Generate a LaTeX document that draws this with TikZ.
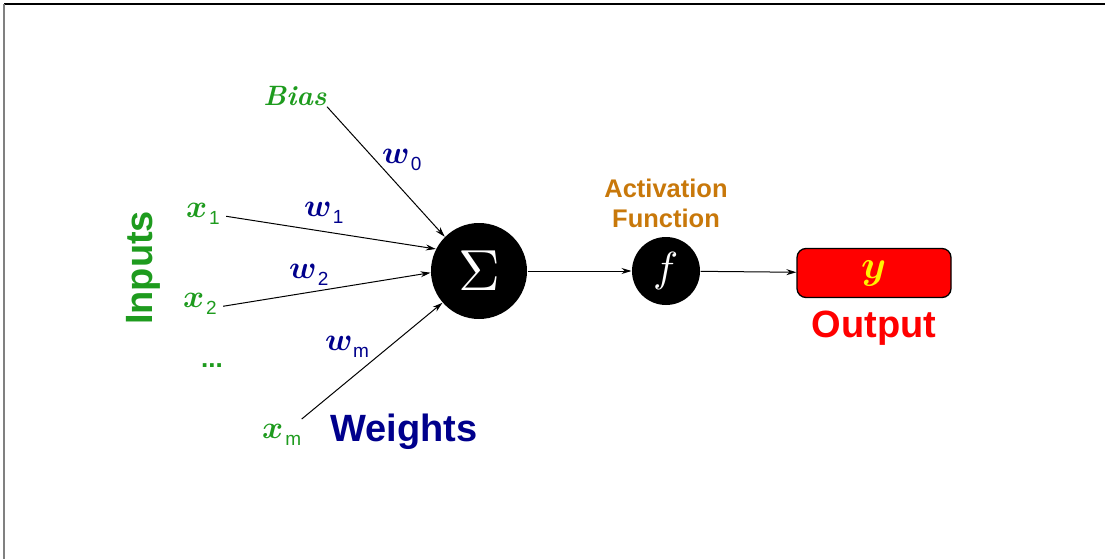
\documentclass[tikz,border=0pt]{standalone}
\usepackage{fontspec}
\usepackage{unicode-math}
\setsansfont{Liberation Sans}
\usetikzlibrary{positioning,arrows.meta}

\definecolor{inpgreen}{RGB}{30,155,30}
\definecolor{wblue}{RGB}{0,0,140}
\definecolor{actorange}{RGB}{200,120,10}

\newcommand{\fs}[1]{\fontsize{#1}{1.2\dimexpr#1pt\relax}\selectfont}
\newcommand{\subsf}[1]{\kern1.5pt\raisebox{-7pt}{\textsf{\fs{19}#1}}}

\tikzset{
	neuron/.style={circle,fill=black,text=white,inner sep=0pt},
	invar/.style={text=inpgreen,inner sep=0pt,anchor=base,font=\fs{32}},
	weight/.style={text=wblue,inner sep=0pt,anchor=base,font=\fs{32}},
	biglabel/.style={font=\sffamily\bfseries\fs{38},inner sep=0pt}
}

\begin{document}
\begin{tikzpicture}[x=1pt,y=-1pt,>={Stealth[length=10pt,width=6pt]},line width=1pt]
		\useasboundingbox (0,0) rectangle (1105,559);
		% frame
		\draw[line width=1.5pt] (4,4) -- (1105,4);
		\draw[gray,line width=1.2pt] (4,4) -- (4,559);

		% units
		\node[neuron,minimum size=96pt] (sum) at (479,271) {\fs{58}$\Sigma$};
		\node[neuron,minimum size=68pt] (act) at (666,271) {\fs{42}$f$};
		\node[draw=black,line width=1.3pt,fill=red,rounded corners=9pt,
			minimum width=154pt,minimum height=49pt,inner sep=0pt] (out) at (874,273)
			{\color{yellow}\fs{40}$\symbfit{y}$};

		% inputs
		\node[invar,text=inpgreen,font=\bfseries\itshape\fs{28}] (bias) at (295,106) {Bias};
		\node[invar] (x1) at (203,217) {$\symbfit{x}$\subsf{1}};
		\node[invar] (x2) at (200,307) {$\symbfit{x}$\subsf{2}};
		\node[text=inpgreen,inner sep=0pt,font=\sffamily\bfseries\fs{26}] (dots) at (212,366) {...};
		\node[invar] (xm) at (282,438) {$\symbfit{x}$\subsf{m}};
		\node[biglabel,text=inpgreen,rotate=90] (inputs) at (143,268) {Inputs};

		% weights
		\node[weight] (w0) at (402,163) {$\symbfit{w}$\subsf{0}};
		\node[weight] (w1) at (324,216) {$\symbfit{w}$\subsf{1}};
		\node[weight] (w2) at (309,278) {$\symbfit{w}$\subsf{2}};
		\node[weight] (wm) at (347,350) {$\symbfit{w}$\subsf{m}};
		\node[biglabel,text=wblue,anchor=base] (weights) at (404,441) {Weights};

		% activation and output
		\node[font=\sffamily\bfseries\fs{25.5},text=actorange,align=center,
			inner sep=0pt,above=8pt of act] (actlabel) {Activation\\Function};
		\node[biglabel,text=red,below=12pt of out] (outlabel) {Output};

		\path[->]
			(bias.south east) edge (sum.135)
			([xshift=6pt,yshift=-3pt]x1.east) edge (sum.153)
			([xshift=6pt,yshift=-3pt]x2.east) edge (sum.182)
			([yshift=4pt]xm.north east) edge (sum.221)
			(sum) edge (act)
			(act) edge (out)
		;
\end{tikzpicture}
\end{document}
